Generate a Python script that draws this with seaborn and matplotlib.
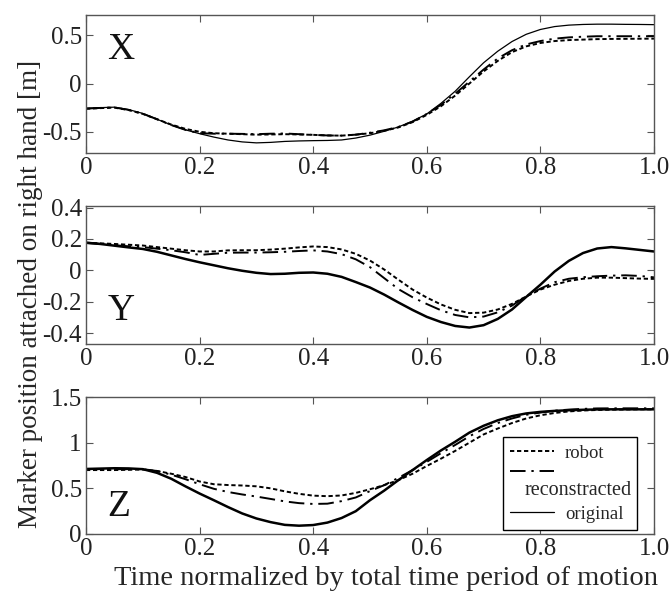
import numpy as np
import pandas as pd
import matplotlib
matplotlib.use("Agg")
import matplotlib.pyplot as plt
from matplotlib.lines import Line2D
import seaborn as sns

t = [0.000, 0.025, 0.050, 0.075, 0.100, 0.125, 0.150, 0.175, 0.200, 0.225,
     0.250, 0.275, 0.300, 0.325, 0.350, 0.375, 0.400, 0.425, 0.450, 0.475,
     0.500, 0.525, 0.550, 0.575, 0.600, 0.625, 0.650, 0.675, 0.700, 0.725,
     0.750, 0.775, 0.800, 0.825, 0.850, 0.875, 0.900, 0.925, 0.950, 0.975, 1.000]

x_robot = [-0.262, -0.255, -0.25, -0.275, -0.315, -0.37, -0.425, -0.47, -0.5, -0.515,
           -0.52, -0.525, -0.53, -0.528, -0.525, -0.528, -0.532, -0.538, -0.54, -0.53,
           -0.515, -0.49, -0.455, -0.4, -0.325, -0.235, -0.125, 0.0, 0.125, 0.235,
           0.325, 0.385, 0.42, 0.44, 0.45, 0.455, 0.46, 0.462, 0.463, 0.464, 0.465]
x_recon = [-0.26, -0.253, -0.248, -0.273, -0.313, -0.37, -0.43, -0.48, -0.515, -0.52,
           -0.52, -0.522, -0.525, -0.52, -0.518, -0.525, -0.532, -0.538, -0.54, -0.53,
           -0.51, -0.485, -0.45, -0.395, -0.315, -0.22, -0.105, 0.02, 0.145, 0.26,
           0.345, 0.405, 0.44, 0.465, 0.478, 0.485, 0.49, 0.49, 0.49, 0.49, 0.49]
x_orig = [-0.257, -0.25, -0.245, -0.27, -0.31, -0.37, -0.43, -0.48, -0.52, -0.555,
          -0.585, -0.605, -0.615, -0.61, -0.6, -0.595, -0.592, -0.59, -0.585, -0.565,
          -0.535, -0.495, -0.45, -0.39, -0.315, -0.205, -0.08, 0.07, 0.215, 0.335,
          0.435, 0.51, 0.56, 0.59, 0.605, 0.612, 0.615, 0.615, 0.613, 0.612, 0.61]

y_robot = [0.176, 0.172, 0.168, 0.163, 0.158, 0.148, 0.138, 0.128, 0.12, 0.12,
           0.127, 0.128, 0.128, 0.132, 0.138, 0.146, 0.152, 0.148, 0.133, 0.105,
           0.062, 0.005, -0.06, -0.123, -0.174, -0.218, -0.252, -0.273, -0.27, -0.25,
           -0.214, -0.167, -0.123, -0.092, -0.068, -0.054, -0.047, -0.047, -0.05, -0.053, -0.055]
y_recon = [0.174, 0.168, 0.16, 0.153, 0.148, 0.138, 0.128, 0.115, 0.098, 0.105,
           0.112, 0.113, 0.113, 0.115, 0.118, 0.123, 0.127, 0.12, 0.103, 0.07,
           0.02, -0.05, -0.12, -0.172, -0.215, -0.255, -0.285, -0.3, -0.295, -0.268,
           -0.225, -0.165, -0.117, -0.076, -0.054, -0.044, -0.038, -0.034, -0.032, -0.036, -0.045]
y_orig = [0.176, 0.168, 0.157, 0.146, 0.136, 0.118, 0.095, 0.072, 0.051, 0.032,
          0.013, -0.003, -0.016, -0.024, -0.022, -0.016, -0.014, -0.022, -0.042, -0.075,
          -0.11, -0.155, -0.205, -0.253, -0.297, -0.33, -0.355, -0.365, -0.35, -0.31,
          -0.25, -0.17, -0.092, -0.008, 0.06, 0.11, 0.139, 0.148, 0.14, 0.13, 0.12]

z_robot = [0.70, 0.70, 0.70, 0.703, 0.706, 0.69, 0.66, 0.624, 0.575, 0.545,
           0.536, 0.531, 0.522, 0.50, 0.467, 0.44, 0.42, 0.414, 0.422, 0.45,
           0.49, 0.535, 0.59, 0.66, 0.745, 0.825, 0.91, 1.0, 1.09, 1.155,
           1.215, 1.265, 1.30, 1.325, 1.342, 1.352, 1.358, 1.361, 1.363, 1.365, 1.365]
z_recon = [0.712, 0.71, 0.71, 0.71, 0.71, 0.69, 0.65, 0.60, 0.545, 0.495,
           0.46, 0.433, 0.41, 0.384, 0.357, 0.338, 0.329, 0.332, 0.36, 0.40,
           0.47, 0.535, 0.615, 0.70, 0.79, 0.885, 0.975, 1.07, 1.15, 1.215,
           1.265, 1.305, 1.33, 1.35, 1.362, 1.37, 1.375, 1.376, 1.376, 1.376, 1.376]
z_orig = [0.712, 0.716, 0.72, 0.718, 0.71, 0.67, 0.605, 0.522, 0.443, 0.37,
          0.295, 0.225, 0.17, 0.13, 0.10, 0.091, 0.098, 0.125, 0.175, 0.25,
          0.37, 0.475, 0.59, 0.70, 0.81, 0.915, 1.01, 1.11, 1.185, 1.245,
          1.29, 1.32, 1.337, 1.348, 1.355, 1.36, 1.364, 1.365, 1.365, 1.365, 1.365]

panel_names = ["X", "Y", "Z"]
legend_labels = ["robot", "reconstracted", "original"]
x_ticks = [0, 0.2, 0.4, 0.6, 0.8, 1.0]
x_ticklabels = ["0", "0.2", "0.4", "0.6", "0.8", "1.0"]
y_ticks = [[-0.5, 0, 0.5], [-0.4, -0.2, 0, 0.2, 0.4], [0, 0.5, 1, 1.5]]
y_ticklabels = [["-0.5", "0", "0.5"], ["-0.4", "-0.2", "0", "0.2", "0.4"],
                ["0", "0.5", "1", "1.5"]]
y_lims = [(-0.72, 0.71), (-0.47, 0.41), (0, 1.5)]

series = [(x_robot, x_recon, x_orig), (y_robot, y_recon, y_orig), (z_robot, z_recon, z_orig)]

# ── Style ────────────────────────────────────────────────────
sns.set_style("ticks")
plt.rcParams['font.family'] = ['Liberation Serif', 'DejaVu Serif']
plt.rcParams['axes.unicode_minus'] = False

fig = plt.figure(figsize=(6.7, 5.91), dpi=100)
left, width = 86 / 670, 568 / 670
bottoms = [1 - 153 / 591, 1 - 344 / 591, 1 - 534 / 591]
heights = [138 / 591, 138 / 591, 137 / 591]

robot_dash = (0, (2.2, 1.4))
recon_dash = (0, (8, 3, 1.2, 3))
orig_lw = [0.9, 1.8, 1.8]
label_y = [0.75, 0.24, 0.20]

for i in range(3):
    ax = fig.add_axes([left, bottoms[i], width, heights[i]])
    robot, recon, orig = series[i]
    sns.lineplot(x=t, y=robot, ax=ax, color="black", lw=1.4, linestyle=robot_dash, label=legend_labels[0])
    sns.lineplot(x=t, y=recon, ax=ax, color="black", lw=1.4, linestyle=recon_dash, label=legend_labels[1])
    sns.lineplot(x=t, y=orig, ax=ax, color="black", lw=orig_lw[i], label=legend_labels[2])

    ax.set_xlim(0, 1)
    ax.set_ylim(*y_lims[i])
    ax.set_xticks(x_ticks)
    ax.set_xticklabels(x_ticklabels)
    ax.set_yticks(y_ticks[i])
    ax.set_yticklabels(y_ticklabels[i])
    ax.tick_params(direction="in", top=True, right=True, length=5, width=0.8,
                   color="#555555", labelsize=18, pad=3, labelcolor="#222222")
    for sp in ax.spines.values():
        sp.set_color("#555555")
        sp.set_linewidth(1.0)
    ax.text(0.038, label_y[i], panel_names[i], transform=ax.transAxes,
            fontsize=27, va="center", ha="left", color="#111111")

    if i == 2:
        # reconstracted's text sits on its own row under its handle
        h, _ = ax.get_legend_handles_labels()
        blank = Line2D([], [], color="none")
        leg = ax.legend([h[0], h[1], blank, h[2]], [legend_labels[0], " ", " ", legend_labels[2]],
                        loc="lower left", bbox_to_anchor=(0.734, 0.029, 0.236, 0.7), mode="expand",
                        fontsize=13.5, frameon=True, fancybox=False, edgecolor="black", framealpha=1,
                        handlelength=2.3, handletextpad=0.6, borderpad=0.4,
                        labelspacing=0.17, borderaxespad=0)
        leg.get_frame().set_linewidth(1.0)
        leg.get_lines()[3].set_linewidth(0.9)
        ax.annotate(legend_labels[1], xy=(0.56, 0.425), xycoords=leg, fontsize=14.5,
                    ha="center", va="center", zorder=10)
        ax.set_xlabel("Time normalized by total time period of motion", fontsize=20.5, labelpad=4)
        ax.xaxis.label.set_x(0.528)
    else:
        ax.get_legend().remove()
    ax.set_ylabel("")

fig.text(0.045, (591 - 294) / 591, "Marker position attached on right hand [m]",
         rotation=90, fontsize=19.5, ha="center", va="center")

fig.savefig("out.png", dpi=100)
